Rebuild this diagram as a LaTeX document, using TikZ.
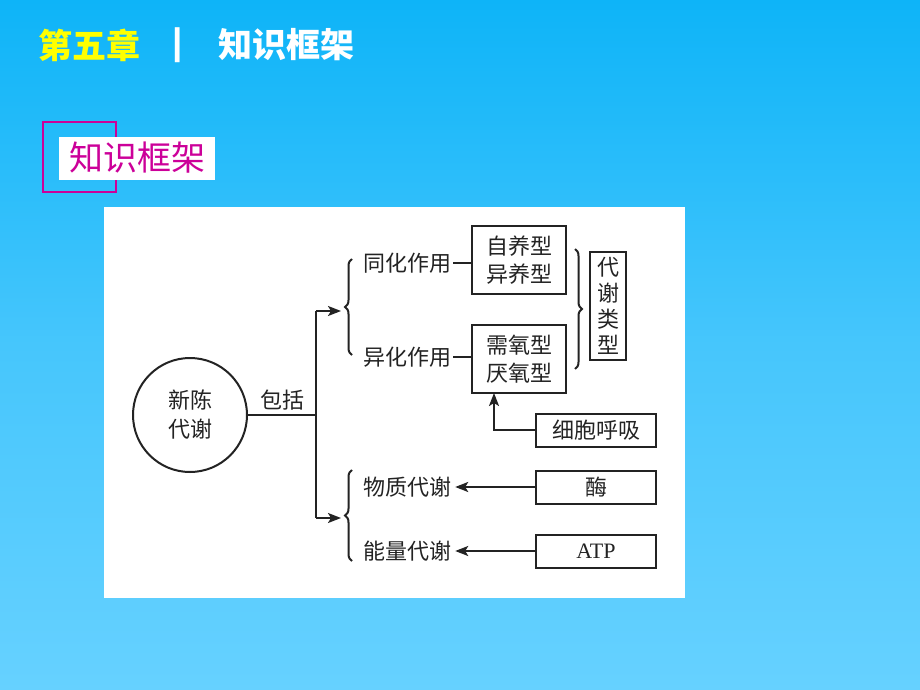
\documentclass[tikz,border=0pt]{standalone}
\usepackage{fontspec}
\newfontfamily\cjk{Noto Sans CJK SC}
\newfontfamily\lsr{Liberation Serif}
\newfontfamily\lsa{Liberation Sans}
\usetikzlibrary{arrows.meta,decorations.pathreplacing}
\definecolor{bgtop}{RGB}{14,180,248}
\definecolor{bgmid}{RGB}{70,198,252}
\definecolor{bgbot}{RGB}{102,209,255}
\definecolor{ttlyellow}{RGB}{255,255,0}
\definecolor{mag}{RGB}{204,0,153}
\definecolor{ink}{RGB}{35,35,35}
\tikzset{
  lbl/.style={inner sep=0pt, text=ink, font=\cjk\fontsize{22}{28}\selectfont, align=center},
  box/.style={draw=ink, line width=2pt, inner sep=0pt, text=ink, font=\cjk\fontsize{22}{28}\selectfont, align=center},
  conn/.style={draw=ink, line width=2pt},
  arr/.style={draw=ink, line width=2pt, -{Stealth[length=13pt,width=10pt,inset=3pt]}},
  brc/.style={draw=ink, line width=2pt, decorate, decoration={brace, amplitude=7pt}}
}
\begin{document}
\begin{tikzpicture}[x=1pt,y=-1pt]
\useasboundingbox (0,0) rectangle (920,690);
\shade[top color=bgtop, bottom color=bgbot, middle color=bgmid] (0,0) rectangle (920,690);
% title
\node[inner sep=0pt, text=ttlyellow, font=\cjk\bfseries\fontsize{34}{34}\selectfont] (t0) at (89,45) {第五章};
\node[inner sep=0pt, text=white, font=\lsa\bfseries\fontsize{37}{37}\selectfont] (bar) at (178,45) {|};
\node[inner sep=0pt, text=white, font=\cjk\bfseries\fontsize{34}{34}\selectfont] (t1) at (286,45) {知识框架};
% subtitle
\draw[mag, line width=2.2pt] (43,122) rectangle (116,192);
\node[fill=white, inner sep=0pt, minimum width=156pt, minimum height=43pt, text=mag, font=\cjk\fontsize{34}{34}\selectfont] (sub) at (137,158) {知识框架};
% panel
\fill[white] (104,207) rectangle (685,598);
% nodes
\node[draw=ink, line width=2pt, circle, minimum size=114pt, inner sep=0pt, text=ink, font=\cjk\fontsize{22}{29}\selectfont, align=center] (c) at (190,415) {新陈\\代谢};
\node[lbl] (bk) at (282,400) {包括};
\node[lbl] (a1) at (407,263) {同化作用};
\node[lbl] (a2) at (407,357) {异化作用};
\node[lbl] (a3) at (407,487) {物质代谢};
\node[lbl] (a4) at (407,551) {能量代谢};
\node[box, minimum width=94pt, minimum height=68pt] (b1) at (519,260) {自养型\\异养型};
\node[box, minimum width=94pt, minimum height=68pt] (b2) at (519,359) {需氧型\\厌氧型};
\node[box, minimum width=36pt, minimum height=108pt, font=\cjk\fontsize{22}{26}\selectfont] (b3) at (608,306) {代\\谢\\类\\型};
\node[box, minimum width=120pt, minimum height=33pt] (b4) at (596,430) {细胞呼吸};
\node[box, minimum width=120pt, minimum height=33pt] (b5) at (596,487) {酶};
\node[box, minimum width=120pt, minimum height=33pt, font=\lsr\fontsize{22}{26}\selectfont] (b6) at (596,551) {ATP};
% coordinates
\coordinate (j) at (316,415);
\coordinate (ju) at (316,311);
\coordinate (jd) at (316,518);
\coordinate (tu) at (341,311);
\coordinate (td) at (341,518);
\coordinate (k) at (494,393);
% braces
\draw[brc] (352,355) -- (352,259);
\draw[brc] (352,561) -- (352,470);
\draw[brc] (575,249) -- (575,369);
% connectors
\draw[conn] (c.east) -- (j);
\draw[conn] (ju) -- (jd);
\draw[arr] (ju) -- (tu);
\draw[arr] (jd) -- (td);
\draw[conn] (a1.east) ++(2pt,0) -- (a1.east -| b1.west);
\draw[conn] (a2.east) ++(2pt,0) -- (a2.east -| b2.west);
\draw[arr] (b4.west) -| (k);
\draw[arr] (b5.west) -- ([xshift=4pt]a3.east);
\draw[arr] (b6.west) -- ([xshift=4pt]a4.east);
\end{tikzpicture}
\end{document}
